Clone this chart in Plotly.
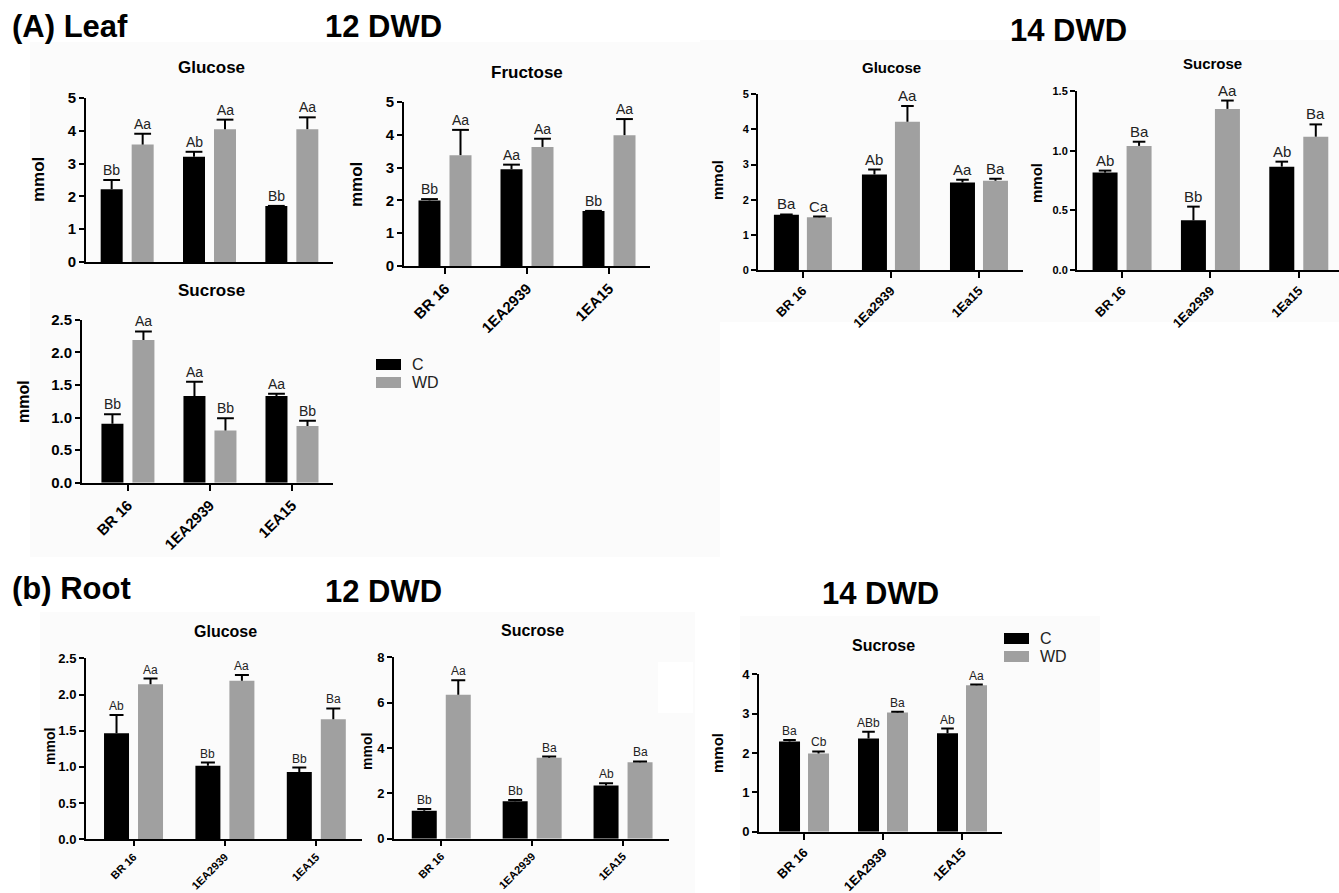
import plotly.graph_objects as go

W, H = 1339, 893
FONT = "Liberation Sans, Arial, sans-serif"
BLACK = "#000000"
GREY = "#a0a0a0"

# ---------------- data ----------------
genotypes_upper = ["BR 16", "1EA2939", "1EA15"]
genotypes_lower = ["BR 16", "1Ea2939", "1Ea15"]

# Leaf, 12 DWD
leaf12_glucose_c = [2.22, 3.21, 1.71]
leaf12_glucose_c_se = [0.28, 0.15, 0.0]
leaf12_glucose_wd = [3.58, 4.05, 4.05]
leaf12_glucose_wd_se = [0.33, 0.29, 0.36]
leaf12_glucose_c_let = ["Bb", "Ab", "Bb"]
leaf12_glucose_wd_let = ["Aa", "Aa", "Aa"]

leaf12_fructose_c = [2.00, 2.95, 1.68]
leaf12_fructose_c_se = [0.04, 0.14, 0.0]
leaf12_fructose_wd = [3.38, 3.63, 3.99]
leaf12_fructose_wd_se = [0.77, 0.25, 0.49]
leaf12_fructose_c_let = ["Bb", "Aa", "Bb"]
leaf12_fructose_wd_let = ["Aa", "Aa", "Aa"]

leaf12_sucrose_c = [0.905, 1.33, 1.33]
leaf12_sucrose_c_se = [0.145, 0.22, 0.035]
leaf12_sucrose_wd = [2.19, 0.80, 0.87]
leaf12_sucrose_wd_se = [0.13, 0.19, 0.08]
leaf12_sucrose_c_let = ["Bb", "Aa", "Aa"]
leaf12_sucrose_wd_let = ["Aa", "Bb", "Bb"]

# Leaf, 14 DWD
leaf14_glucose_c = [1.57, 2.72, 2.49]
leaf14_glucose_c_se = [0.01, 0.14, 0.08]
leaf14_glucose_wd = [1.50, 4.22, 2.54]
leaf14_glucose_wd_se = [0.02, 0.45, 0.06]
leaf14_glucose_c_let = ["Ba", "Ab", "Aa"]
leaf14_glucose_wd_let = ["Ca", "Aa", "Ba"]

leaf14_sucrose_c = [0.816, 0.416, 0.866]
leaf14_sucrose_c_se = [0.017, 0.115, 0.042]
leaf14_sucrose_wd = [1.04, 1.35, 1.117]
leaf14_sucrose_wd_se = [0.035, 0.07, 0.103]
leaf14_sucrose_c_let = ["Ab", "Bb", "Ab"]
leaf14_sucrose_wd_let = ["Ba", "Aa", "Ba"]

# Root, 12 DWD
root12_glucose_c = [1.464, 1.017, 0.93]
root12_glucose_c_se = [0.253, 0.043, 0.06]
root12_glucose_wd = [2.14, 2.19, 1.657]
root12_glucose_wd_se = [0.08, 0.08, 0.15]
root12_glucose_c_let = ["Ab", "Bb", "Bb"]
root12_glucose_wd_let = ["Aa", "Aa", "Ba"]

root12_sucrose_c = [1.235, 1.65, 2.35]
root12_sucrose_c_se = [0.07, 0.06, 0.09]
root12_sucrose_wd = [6.35, 3.57, 3.37]
root12_sucrose_wd_se = [0.64, 0.05, 0.04]
root12_sucrose_c_let = ["Bb", "Bb", "Ab"]
root12_sucrose_wd_let = ["Aa", "Ba", "Ba"]

# Root, 14 DWD
root14_sucrose_c = [2.29, 2.37, 2.50]
root14_sucrose_c_se = [0.04, 0.17, 0.12]
root14_sucrose_wd = [1.99, 3.03, 3.72]
root14_sucrose_wd_se = [0.05, 0.02, 0.02]
root14_sucrose_c_let = ["Ba", "ABb", "Ab"]
root14_sucrose_wd_let = ["Cb", "Ba", "Aa"]

# ---------------- panel layout (pixel boxes of the axes) ----------------
panels = [
    dict(cats=genotypes_upper, c=leaf12_glucose_c, cse=leaf12_glucose_c_se, wd=leaf12_glucose_wd,
         wdse=leaf12_glucose_wd_se, cl=leaf12_glucose_c_let, wl=leaf12_glucose_wd_let,
         px=(86, 333), py=(98, 262), xr=(-0.5, 2.5), yr=(0, 5), dtick=1, fmt="d",
         bar=22, sep=31, cap=12, tfs=15, xtfs=15, xtl=6, showx=False, lfs=14,
         title="Glucose", txy=(211, 68), tfs_title=17, ylab=(38, 180), ylfs=17),
    dict(cats=genotypes_upper, c=leaf12_fructose_c, cse=leaf12_fructose_c_se, wd=leaf12_fructose_wd,
         wdse=leaf12_fructose_wd_se, cl=leaf12_fructose_c_let, wl=leaf12_fructose_wd_let,
         px=(404, 650), py=(102, 266), xr=(-0.5, 2.5), yr=(0, 5), dtick=1, fmt="d",
         bar=22, sep=31, cap=12, tfs=15, xtfs=15, xtl=6, showx=True, lfs=14,
         title="Fructose", txy=(527, 73), tfs_title=17, ylab=(357, 185), ylfs=17),
    dict(cats=genotypes_upper, c=leaf12_sucrose_c, cse=leaf12_sucrose_c_se, wd=leaf12_sucrose_wd,
         wdse=leaf12_sucrose_wd_se, cl=leaf12_sucrose_c_let, wl=leaf12_sucrose_wd_let,
         px=(82, 333), py=(319.7, 482.7), xr=(-0.56, 2.5), yr=(0, 2.5), dtick=0.5, fmt=".1f",
         bar=22, sep=31, cap=12, tfs=15, xtfs=15, xtl=6, showx=True, lfs=14,
         title="Sucrose", txy=(211, 290), tfs_title=17, ylab=(23, 402), ylfs=16),
    dict(cats=genotypes_lower, c=leaf14_glucose_c, cse=leaf14_glucose_c_se, wd=leaf14_glucose_wd,
         wdse=leaf14_glucose_wd_se, cl=leaf14_glucose_c_let, wl=leaf14_glucose_wd_let,
         px=(758, 1023), py=(94.3, 270), xr=(-0.51, 2.5), yr=(0, 5), dtick=1, fmt="d",
         bar=25, sep=33, cap=9, tfs=11, xtfs=13, xtl=6, showx=True, lfs=15,
         title="Glucose", txy=(891, 68), tfs_title=15, ylab=(717, 180), ylfs=15),
    dict(cats=genotypes_lower, c=leaf14_sucrose_c, cse=leaf14_sucrose_c_se, wd=leaf14_sucrose_wd,
         wdse=leaf14_sucrose_wd_se, cl=leaf14_sucrose_c_let, wl=leaf14_sucrose_wd_let,
         px=(1077, 1339), py=(91, 270), xr=(-0.51, 2.455), yr=(0, 1.5), dtick=0.5, fmt=".1f",
         bar=25, sep=34, cap=9, tfs=11, xtfs=13, xtl=6, showx=True, lfs=15,
         title="Sucrose", txy=(1212, 63), tfs_title=15, ylab=(1037, 183), ylfs=15),
    dict(cats=genotypes_upper, c=root12_glucose_c, cse=root12_glucose_c_se, wd=root12_glucose_wd,
         wdse=root12_glucose_wd_se, cl=root12_glucose_c_let, wl=root12_glucose_wd_let,
         px=(86, 362), py=(658.3, 839.3), xr=(-0.52, 2.5), yr=(0, 2.5), dtick=0.5, fmt=".1f",
         bar=25, sep=34, cap=10, tfs=13, xtfs=11, xtl=5, showx=True, lfs=12,
         title="Glucose", txy=(225, 631), tfs_title=16, ylab=(50, 747), ylfs=14),
    dict(cats=genotypes_upper, c=root12_sucrose_c, cse=root12_sucrose_c_se, wd=root12_sucrose_wd,
         wdse=root12_sucrose_wd_se, cl=root12_sucrose_c_let, wl=root12_sucrose_wd_let,
         px=(394, 668.5), py=(657.3, 838.7), xr=(-0.52, 2.5), yr=(0, 8), dtick=2, fmt="d",
         bar=25, sep=34, cap=10, tfs=13, xtfs=11, xtl=5, showx=True, lfs=12,
         title="Sucrose", txy=(532, 630), tfs_title=16, ylab=(367, 752), ylfs=14),
    dict(cats=genotypes_upper, c=root14_sucrose_c, cse=root14_sucrose_c_se, wd=root14_sucrose_wd,
         wdse=root14_sucrose_wd_se, cl=root14_sucrose_c_let, wl=root14_sucrose_wd_let,
         px=(759, 1001.5), py=(674.3, 831.7), xr=(-0.57, 2.5), yr=(0, 4), dtick=1, fmt="d",
         bar=21, sep=29, cap=9, tfs=13, xtfs=13, xtl=6, showx=True, lfs=12,
         title="Sucrose", txy=(883, 645), tfs_title=16, ylab=(717, 753), ylfs=15),
]

fig = go.Figure()
annotations = []
shapes = []
layout_axes = {}


def fx(px):
    return px / W


def fy(py):
    return 1 - py / H


# faint grey panel backgrounds of the composite figure
for (x0, y0, x1, y1) in [(30, 42, 720, 557), (700, 40, 1339, 322),
                         (40, 612, 378, 893), (378, 612, 695, 893), (740, 616, 1100, 893)]:
    shapes.append(dict(type="rect", xref="paper", yref="paper", x0=fx(x0), x1=fx(x1),
                       y0=fy(y1), y1=fy(y0), fillcolor="#fbfbfb", line=dict(width=0), layer="below"))
# a blank patch inside the root sucrose panel
shapes.append(dict(type="rect", xref="paper", yref="paper", x0=fx(658), x1=fx(693),
                   y0=fy(713), y1=fy(662), fillcolor="#ffffff", line=dict(width=0), layer="below"))

for i, p in enumerate(panels, start=1):
    xa = "x" if i == 1 else f"x{i}"
    ya = "y" if i == 1 else f"y{i}"
    xkey = "xaxis" if i == 1 else f"xaxis{i}"
    ykey = "yaxis" if i == 1 else f"yaxis{i}"
    px0, px1 = p["px"]
    ptop, pbot = p["py"]
    spacing = (px1 - px0) / (p["xr"][1] - p["xr"][0])
    bw = p["bar"] / spacing
    half = p["sep"] / 2 / spacing
    idx = list(range(len(p["cats"])))

    layout_axes[xkey] = dict(
        domain=[fx(px0), fx(px1)], anchor=ya, range=list(p["xr"]), automargin=False,
        tickmode="array", tickvals=idx, ticktext=p["cats"],
        showticklabels=p["showx"], ticks="outside" if p["showx"] else "",
        ticklen=p["xtl"], tickwidth=2, tickcolor=BLACK, tickangle=-45,
        tickfont=dict(family=FONT, size=p["xtfs"], color=BLACK, weight="bold"),
        showline=True, linecolor=BLACK, linewidth=2, showgrid=False, zeroline=False,
        fixedrange=True,
    )
    layout_axes[ykey] = dict(
        domain=[fy(pbot), fy(ptop)], anchor=xa, range=list(p["yr"]), automargin=False,
        dtick=p["dtick"], tick0=0, tickformat=p["fmt"],
        ticks="outside", ticklen=5, tickwidth=2, tickcolor=BLACK,
        tickfont=dict(family=FONT, size=p["tfs"], color=BLACK, weight="bold"),
        showline=True, linecolor=BLACK, linewidth=2, showgrid=False, zeroline=False,
        fixedrange=True,
    )

    for vals, se, lets, color, centre in [
        (p["c"], p["cse"], p["cl"], BLACK, -half),
        (p["wd"], p["wdse"], p["wl"], GREY, half),
    ]:
        fig.add_trace(go.Bar(
            x=idx, y=vals, width=bw, offset=centre - bw / 2,
            marker=dict(color=color, line=dict(width=0)),
            error_y=dict(type="data", symmetric=False, array=se, arrayminus=[0] * len(se),
                         color=BLACK, thickness=2, width=0),
            xaxis=xa, yaxis=ya, showlegend=False, hoverinfo="skip",
        ))
        tops = [v + s for v, s in zip(vals, se)]
        xs = [k + centre for k in idx]
        fig.add_trace(go.Scatter(
            x=xs, y=tops, mode="markers",
            marker=dict(symbol="line-ew", size=p["cap"], line=dict(width=2, color=BLACK)),
            xaxis=xa, yaxis=ya, showlegend=False, hoverinfo="skip",
        ))
        for xv, yv, t in zip(xs, tops, lets):
            annotations.append(dict(x=xv, y=yv, xref=xa, yref=ya, text=t, showarrow=False,
                                    xanchor="center", yanchor="bottom", yshift=0,
                                    font=dict(family=FONT, size=p["lfs"], color="#222222")))

    annotations.append(dict(x=fx(p["txy"][0]), y=fy(p["txy"][1]), xref="paper", yref="paper",
                            text=f"<b>{p['title']}</b>", showarrow=False,
                            xanchor="center", yanchor="middle",
                            font=dict(family=FONT, size=p["tfs_title"], color=BLACK)))
    annotations.append(dict(x=fx(p["ylab"][0]), y=fy(p["ylab"][1]), xref="paper", yref="paper",
                            text="<b>mmol</b>", showarrow=False, textangle=-90,
                            xanchor="center", yanchor="middle",
                            font=dict(family=FONT, size=p["ylfs"], color=BLACK)))

# figure headings
for text, x, y in [("(A) Leaf", 10, 27), ("12 DWD", 323, 27), ("14 DWD", 1008, 30),
                   ("(b) Root", 10, 588), ("12 DWD", 323, 591), ("14 DWD", 820, 593)]:
    annotations.append(dict(x=fx(x), y=fy(y), xref="paper", yref="paper", text=f"<b>{text}</b>",
                            showarrow=False, xanchor="left", yanchor="middle",
                            font=dict(family=FONT, size=31, color=BLACK)))

# legends (C / WD)
for (lx, ly0, ly1, tx, fs) in [(376, 359, 377, 410, 16), (1004, 633, 651, 1038, 16)]:
    for ly, col, lab in [(ly0, BLACK, "C"), (ly1, GREY, "WD")]:
        shapes.append(dict(type="rect", xref="paper", yref="paper", x0=fx(lx), x1=fx(lx + 25),
                           y0=fy(ly + 11), y1=fy(ly), fillcolor=col, line=dict(width=0)))
        annotations.append(dict(x=fx(tx), y=fy(ly + 5.5), xref="paper", yref="paper", text=lab,
                                showarrow=False, xanchor="left", yanchor="middle",
                                font=dict(family=FONT, size=fs, color="#222222")))

fig.update_layout(
    width=W, height=H, margin=dict(l=0, r=0, t=0, b=0, pad=0, autoexpand=False),
    paper_bgcolor="#ffffff", plot_bgcolor="rgba(0,0,0,0)",
    barmode="overlay", showlegend=False,
    annotations=annotations, shapes=shapes,
    **layout_axes,
)

fig.write_html("out.html")
